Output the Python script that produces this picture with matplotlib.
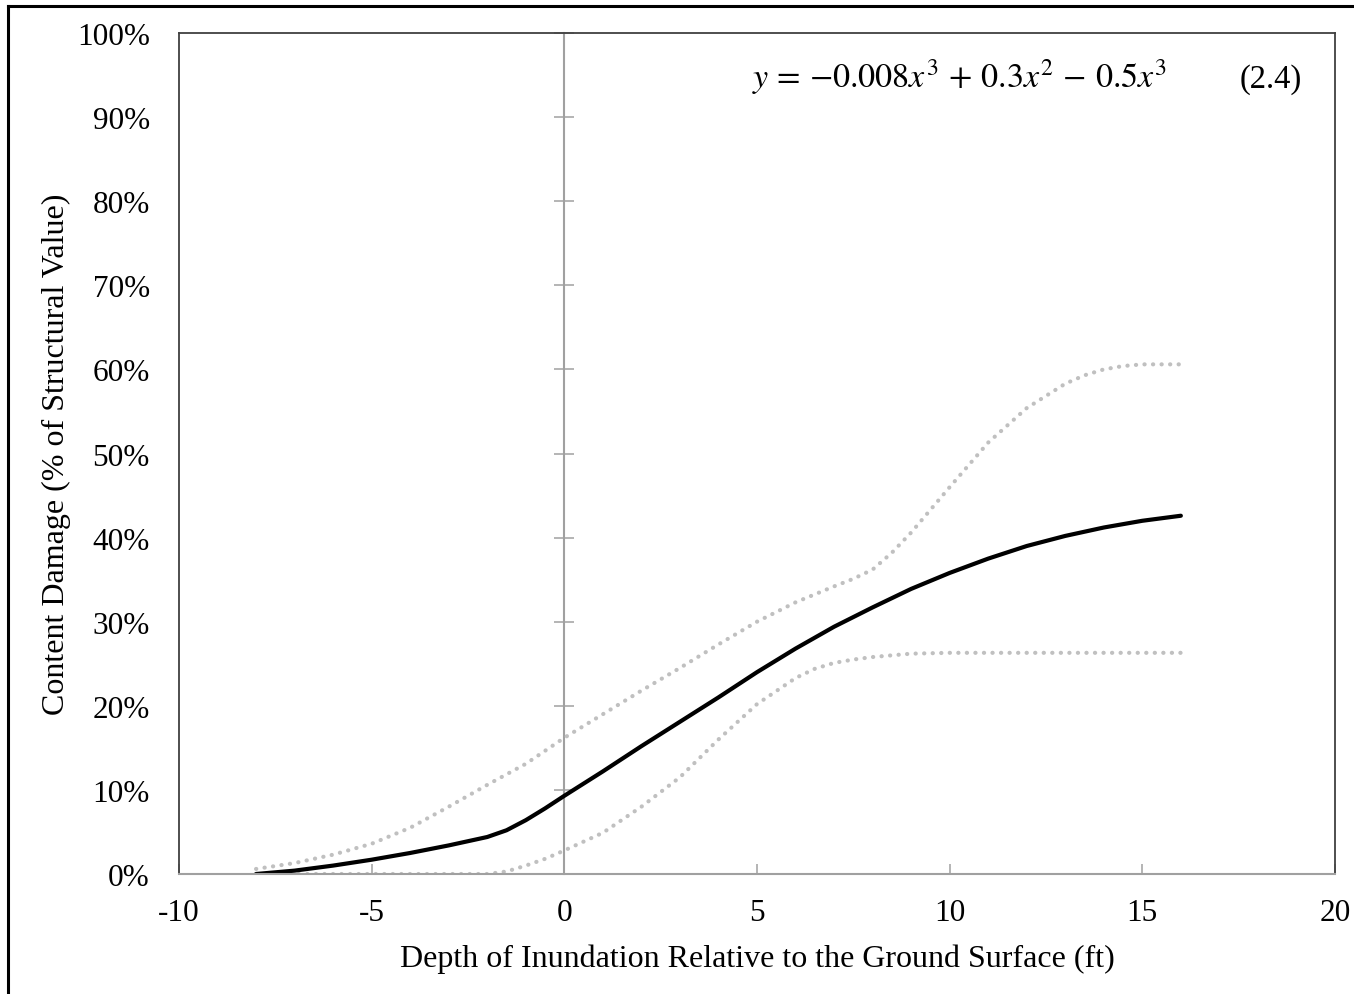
import numpy as np
import matplotlib.pyplot as plt
from matplotlib.lines import Line2D
from matplotlib.ticker import PercentFormatter

plt.rcParams['font.family'] = ['Liberation Serif', 'DejaVu Serif']
plt.rcParams['mathtext.fontset'] = 'stix'
plt.rcParams['axes.unicode_minus'] = False

# depth (ft) and damage (%)
depth_mean = [-8, -7, -6, -5, -4, -3, -2, -1.5, -1, -0.5, 0, 1, 2, 3, 4, 5, 6, 7, 8, 9, 10,
              11, 12, 13, 14, 15, 16]
damage_mean = [0.0, 0.4, 1.0, 1.7, 2.5, 3.4, 4.4, 5.2, 6.4, 7.8, 9.3, 12.2, 15.2, 18.1, 21.0,
               24.0, 26.8, 29.4, 31.7, 33.9, 35.8, 37.5, 39.0, 40.2, 41.2, 42.0, 42.6]

depth_upper = [-8, -7, -6, -5, -4, -3, -2, -1, 0, 1, 2, 3, 4, 5, 6, 7, 7.5, 8, 8.5, 9, 10,
               11, 12, 13, 13.5, 14, 14.5, 15, 16]
damage_upper = [0.6, 1.3, 2.3, 3.6, 5.5, 8.0, 10.6, 13.1, 16.2, 19.0, 21.8, 24.5, 27.3, 30.0,
                32.3, 34.2, 35.1, 36.2, 38.2, 40.6, 46.0, 51.3, 55.4, 58.3, 59.3, 60.0, 60.4,
                60.6, 60.6]

depth_lower = [-8, -7, -6, -5, -4, -3, -2, -1.5, -1, -0.5, 0, 1, 2, 3, 4, 5, 6, 6.5, 7, 7.5,
               8, 9, 10, 11, 12, 13, 14, 15, 16]
damage_lower = [0.0, 0.0, 0.0, 0.0, 0.0, 0.0, 0.0, 0.3, 1.0, 1.8, 2.8, 4.9, 8.0, 11.5, 16.0,
                20.2, 23.3, 24.4, 25.1, 25.5, 25.8, 26.2, 26.3, 26.3, 26.3, 26.3, 26.3, 26.3,
                26.3]

xticks = [-10, -5, 0, 5, 10, 15, 20]
yticks = list(range(0, 101, 10))

fig = plt.figure(figsize=(13.54, 9.95), dpi=100)
ax = fig.add_axes([179/1354, 120/995, 1156/1354, 841/995])

dots = dict(color='#c0c0c0', lw=3.0, ls=(0, (0.05, 2.0)), dash_capstyle='round')
ax.plot(depth_upper, damage_upper, **dots)
ax.plot(depth_lower, damage_lower, **dots)
ax.plot(depth_mean, damage_mean, color='black', lw=3.0, solid_capstyle='round',
        solid_joinstyle='round')

ax.set_xlim(-10, 20)
ax.set_ylim(0, 100)
ax.set_xticks(xticks)
ax.set_yticks(yticks)
ax.yaxis.set_major_formatter(PercentFormatter(decimals=0))

for s in ['left', 'right', 'top']:
    ax.spines[s].set_color('#404040')
    ax.spines[s].set_linewidth(1.3)
ax.spines['bottom'].set_color('#a0a0a0')
ax.spines['bottom'].set_linewidth(1.5)

ax.tick_params(axis='y', length=0, pad=21, labelsize=22.5)
ax.tick_params(axis='x', direction='in', length=7, width=1.1, color='#a0a0a0', pad=17,
               labelsize=22.5)

# y axis crossing at x = 0
sec = ax.secondary_yaxis((0 - xticks[0]) / (xticks[-1] - xticks[0]))
sec.set_yticks(yticks)
sec.tick_params(direction='inout', length=15, width=1.1, color='#a0a0a0', labelleft=False)
sec.spines['left'].set_color('#a0a0a0')
sec.spines['left'].set_linewidth(1.5)

ax.set_xlabel('Depth of Inundation Relative to the Ground Surface (ft)', fontsize=23, labelpad=12)
ax.set_ylabel('Content Damage (% of Structural Value)', fontsize=23, labelpad=4)

ax.text(0.4957, 0.936, r'$y\,=\,{-}0.008x^3\,+\,0.3x^2\,-\,0.5x^3$', transform=ax.transAxes,
        fontsize=24.5, va='baseline', ha='left')
ax.text(0.971, 0.936, '(2.4)', transform=ax.transAxes, fontsize=23.5, va='baseline', ha='right')

# frame of the screenshot
fig.add_artist(Line2D([8/1354, 8/1354], [0, 988/995], color='black', lw=2.2))
fig.add_artist(Line2D([8/1354, 1], [988/995, 988/995], color='black', lw=2.2))

fig.savefig('out.png', dpi=100)
